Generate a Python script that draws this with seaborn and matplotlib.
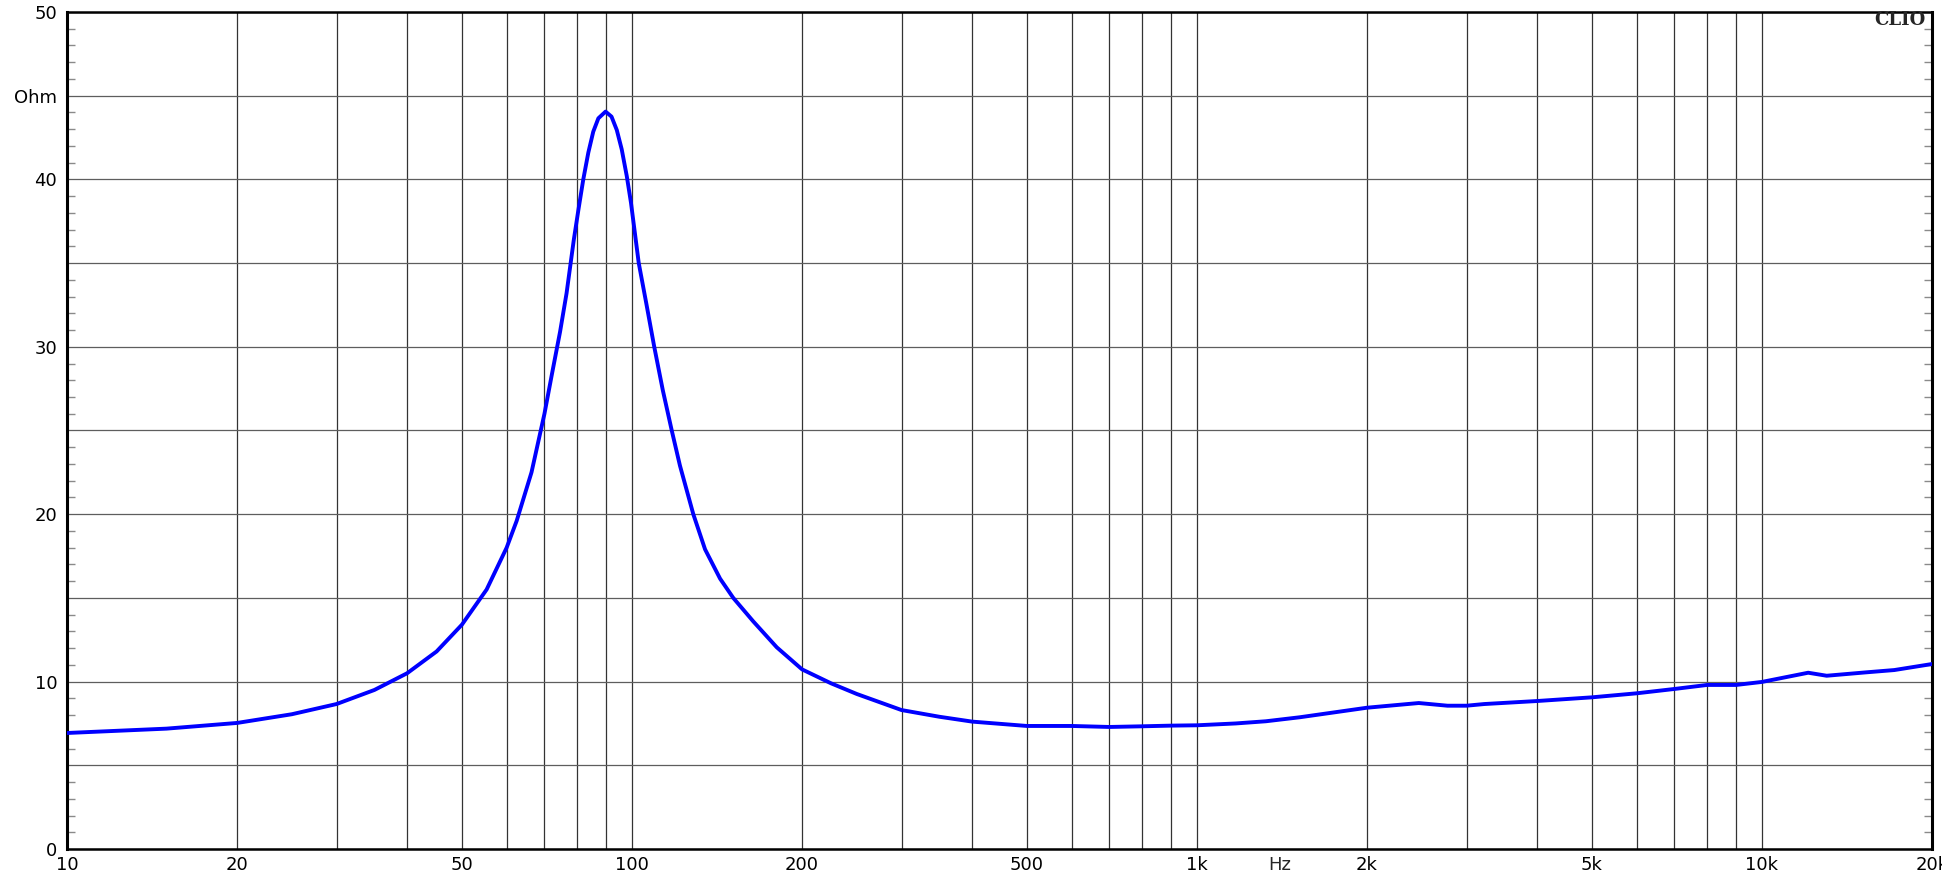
import numpy as np
import matplotlib
matplotlib.use('Agg')
import matplotlib.pyplot as plt
from matplotlib.ticker import FixedLocator, NullFormatter, MultipleLocator
import seaborn as sns

# impedance curve
freq_hz = [10, 15, 20, 25, 30, 35, 40, 45.1, 50, 55.3, 60, 62.5, 66.4, 70, 72.1,
           74.6, 76.6, 78.9, 80.4, 82.0, 83.7, 85.4, 87.2, 89.8, 92.0, 94.0, 95.9,
           97.9, 99.6, 102.8, 106.0, 109.5, 113.4, 117.6, 121.6, 128.4, 134.7,
           143.2, 151.1, 163.9, 180.4, 200, 225, 250, 300, 350, 400, 500, 600, 700,
           800, 900, 1000, 1171, 1324, 1521, 2000, 2470, 2776, 3000, 3226, 4000,
           5000, 6000, 7000, 8000, 9000, 10000, 12075, 13020, 15253, 17151, 20000]
impedance_ohm = [6.93, 7.19, 7.53, 8.05, 8.66, 9.50, 10.5, 11.8, 13.4, 15.5, 18.0,
                 19.6, 22.5, 26.0, 28.3, 30.9, 33.2, 36.4, 38.2, 40.0, 41.6, 42.85,
                 43.65, 44.05, 43.75, 42.95, 41.8, 40.2, 38.6, 35.0, 32.6, 30.0,
                 27.4, 25.0, 22.9, 20.0, 17.9, 16.15, 15.0, 13.6, 12.05, 10.73, 9.9,
                 9.26, 8.30, 7.90, 7.61, 7.35, 7.35, 7.29, 7.33, 7.37, 7.39, 7.50,
                 7.63, 7.87, 8.44, 8.72, 8.56, 8.56, 8.66, 8.84, 9.06, 9.30, 9.56,
                 9.80, 9.80, 9.98, 10.53, 10.35, 10.55, 10.69, 11.05]

x_tick_vals = [10, 20, 50, 100, 200, 500, 1000, 2000, 5000, 10000, 20000]
x_tick_labels = ['10', '20', '50', '100', '200', '500', '1k', '2k', '5k', '10k', '20k']
x_grid_vals = [m * d for d in (10, 100, 1000) for m in range(2, 10)] + [10000]
y_tick_vals = [0, 5, 10, 15, 20, 25, 30, 35, 40, 45, 50]
y_tick_labels = ['0', '', '10', '', '20', '', '30', '', '40', 'Ohm', '50']

sns.set_style('white')
plt.rcParams['font.family'] = ['DejaVu Sans']

W, H = 1942, 880
fig = plt.figure(figsize=(W / 100, H / 100), dpi=100, facecolor='white')
ax = fig.add_axes([67 / W, 31 / H, 1865 / W, 837 / H])

sns.lineplot(x=freq_hz, y=impedance_ohm, ax=ax, color='#0000ff', linewidth=2.8,
             estimator=None, zorder=5)

ax.set_xscale('log')
ax.set_xlim(10, 20000)
ax.set_ylim(0, 50)

ax.set_xticks(x_tick_vals)
ax.set_xticklabels(x_tick_labels)
ax.xaxis.set_minor_locator(FixedLocator(x_grid_vals))
ax.xaxis.set_minor_formatter(NullFormatter())
ax.set_yticks(y_tick_vals)
ax.set_yticklabels(y_tick_labels)
ax.yaxis.set_minor_locator(MultipleLocator(1))

ax.grid(True, which='both', axis='x', color='#333333', linewidth=0.9)
ax.grid(True, which='major', axis='y', color='#5e5e5e', linewidth=0.9)
ax.set_axisbelow(True)

ax.tick_params(axis='x', which='both', length=0, pad=5, labelsize=13, colors='black')
ax.tick_params(axis='y', which='major', length=0, pad=7, labelsize=13, colors='black')
ax.tick_params(axis='y', which='minor', direction='in', length=6, width=1,
               color='#8a8a8a', left=True, right=True)

ax.annotate('Hz', xy=(1400, 0), xycoords=('data', 'axes fraction'),
            xytext=(0, -5), textcoords='offset points', ha='center', va='top',
            fontsize=13)
ax.text(0.9963, 0.9905, 'CLIO', transform=ax.transAxes, ha='right', va='center',
        fontsize=13, fontweight='bold', family='DejaVu Serif')

for side in ['left', 'right', 'bottom', 'top']:
    ax.spines[side].set_visible(True)
    ax.spines[side].set_color('black')
    ax.spines[side].set_linewidth(2.2)
ax.spines['top'].set_linewidth(1.8)
ax.spines['bottom'].set_linewidth(1.8)

ax.set_xlabel('')
ax.set_ylabel('')

fig.savefig('out.png', dpi=100, facecolor='white')
